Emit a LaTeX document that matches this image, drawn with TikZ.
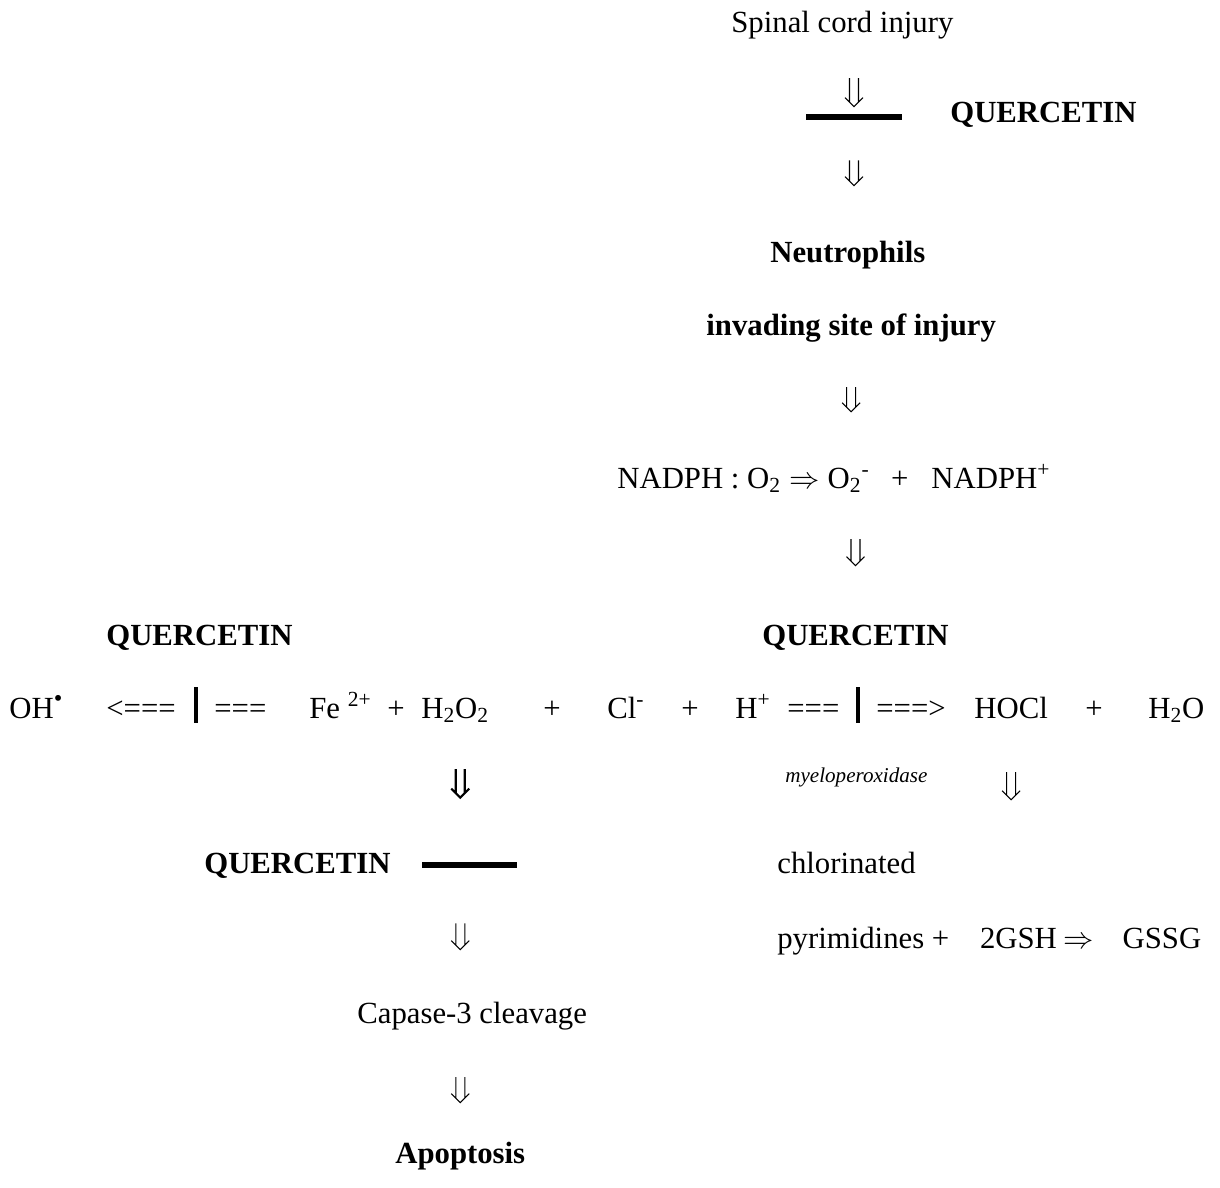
\documentclass[tikz,border=0pt]{standalone}
\usepackage{fontspec}
\setmainfont{Liberation Serif}

\begin{document}
\begin{tikzpicture}[x=0.02cm, y=-0.02cm,
  txt/.style={inner sep=0pt, anchor=base west, text height=0.46cm, text depth=0.155cm, font=\fontsize{17.5}{21}\selectfont},
  bld/.style={txt, font=\fontsize{17.5}{21}\selectfont\bfseries},
  small/.style={txt, font=\fontsize{12}{14}\selectfont\itshape},
  hbar/.style={fill=black, inner sep=0pt, minimum height=0.12cm},
  vbar/.style={fill=black, inner sep=0pt, minimum width=0.08cm, minimum height=0.72cm},
  % double down arrow: #1 gap after start, #2 gap before target
  dar/.style 2 args={line width=0.6pt, to path={
    ([shift={(-0.09cm,-#1)}]\tikztostart) -- ([shift={(-0.09cm,#2+0.09cm)}]\tikztotarget)
    ([shift={(0.09cm,-#1)}]\tikztostart) -- ([shift={(0.09cm,#2+0.09cm)}]\tikztotarget)
    ([shift={(-0.18cm,#2+0.18cm)}]\tikztotarget) -- ([shift={(0,#2)}]\tikztotarget)
      -- ([shift={(0.18cm,#2+0.18cm)}]\tikztotarget)}},
  bdar/.style 2 args={dar={#1}{#2}, line width=1.2pt}
]
\useasboundingbox (0,0) rectangle (1220,1187);

% top column
\node[txt] (spinal) at (731,32) {Spinal cord injury};
\node[hbar, minimum width=1.92cm] (bar1) at (854,117) {};
\node[bld] (qtop) at (950,122) {QUERCETIN};
\node[bld] (neut) at (770,262) {Neutrophils};
\node[bld] (invad) at (706,335) {invading site of injury};
\node[txt] (nadph) at (617,488) {NADPH : O\textsubscript{2}\hspace{0.28em}$\Rightarrow$\hspace{0.25em}O\textsubscript{2}\textsuperscript{-}\hspace{0.7em}+\hspace{0.75em}NADPH\textsuperscript{+}};

% inhibitors
\node[bld] (qleft) at (106,645) {QUERCETIN};
\node[bld] (qright) at (762,645) {QUERCETIN};

% reaction line
\node[txt] (oh) at (9,718) {OH\textsuperscript{\fontsize{14}{14}\selectfont •}};
\node[txt] (ltarr) at (106,718) {<===};
\node[vbar] (vleft) at (196,705) {};
\node[txt] (eqleft) at (214,718) {===};
\node[txt] (fe) at (309,718) {Fe \textsuperscript{2+}};
\node[txt] (plus1) at (387,718) {+};
\node[txt] (hoo) at (421,718) {H\textsubscript{2}O\textsubscript{2}};
\node[txt] (plus2) at (543,718) {+};
\node[txt] (cl) at (607,718) {Cl\textsuperscript{-}};
\node[txt] (plus3) at (681,718) {+};
\node[txt] (hp) at (735,718) {H\textsuperscript{+}};
\node[txt] (eqright) at (787,718) {===};
\node[vbar] (vright) at (858,705) {};
\node[txt] (rtarr) at (876,718) {===>};
\node[txt] (hocl) at (974,718) {HOCl};
\node[txt] (plus4) at (1085,718) {+};
\node[txt] (water) at (1148,718) {H\textsubscript{2}O};
\node[small] (myelo) at (785,782) {myeloperoxidase};

% left branch
\node[bld] (qmid) at (204,873) {QUERCETIN};
\node[hbar, minimum width=1.9cm] (bar2) at (469.5,865) {};
\node[txt] (capase) at (357,1023) {Capase-3 cleavage};
\node[bld] (apop) at (395,1163) {Apoptosis};

% right branch
\node[txt] (chlor) at (777,873) {chlorinated};
\node[txt] (pyr) at (777,948) {pyrimidines +\hspace{1em}2GSH\hspace{0.2em}$\Rightarrow$\hspace{0.95em}GSSG};

% arrows
\draw[dar={0.76cm}{0.14cm}] (spinal.south -| bar1) to (bar1.north);
\draw[dar={0.8cm}{1.06cm}] (bar1.south) to (neut.north -| bar1);
\draw[dar={0.88cm}{1.06cm}] (invad.south) to (nadph.north -| invad);
\draw[dar={0.86cm}{1.12cm}] (nadph.south -| qright) to (qright.north);
\draw[bdar={0.86cm}{1.28cm}] (hoo.south -| apop) to (bar2.north -| apop);
\draw[dar={1.1cm}{1.0cm}] (bar2.south -| apop) to (capase.north -| apop);
\draw[dar={0.92cm}{0.74cm}] (capase.south -| apop) to (apop.north);
\draw[dar={0.92cm}{1.0cm}] (hocl.south) to (hocl.south |- chlor.north);

\end{tikzpicture}
\end{document}
